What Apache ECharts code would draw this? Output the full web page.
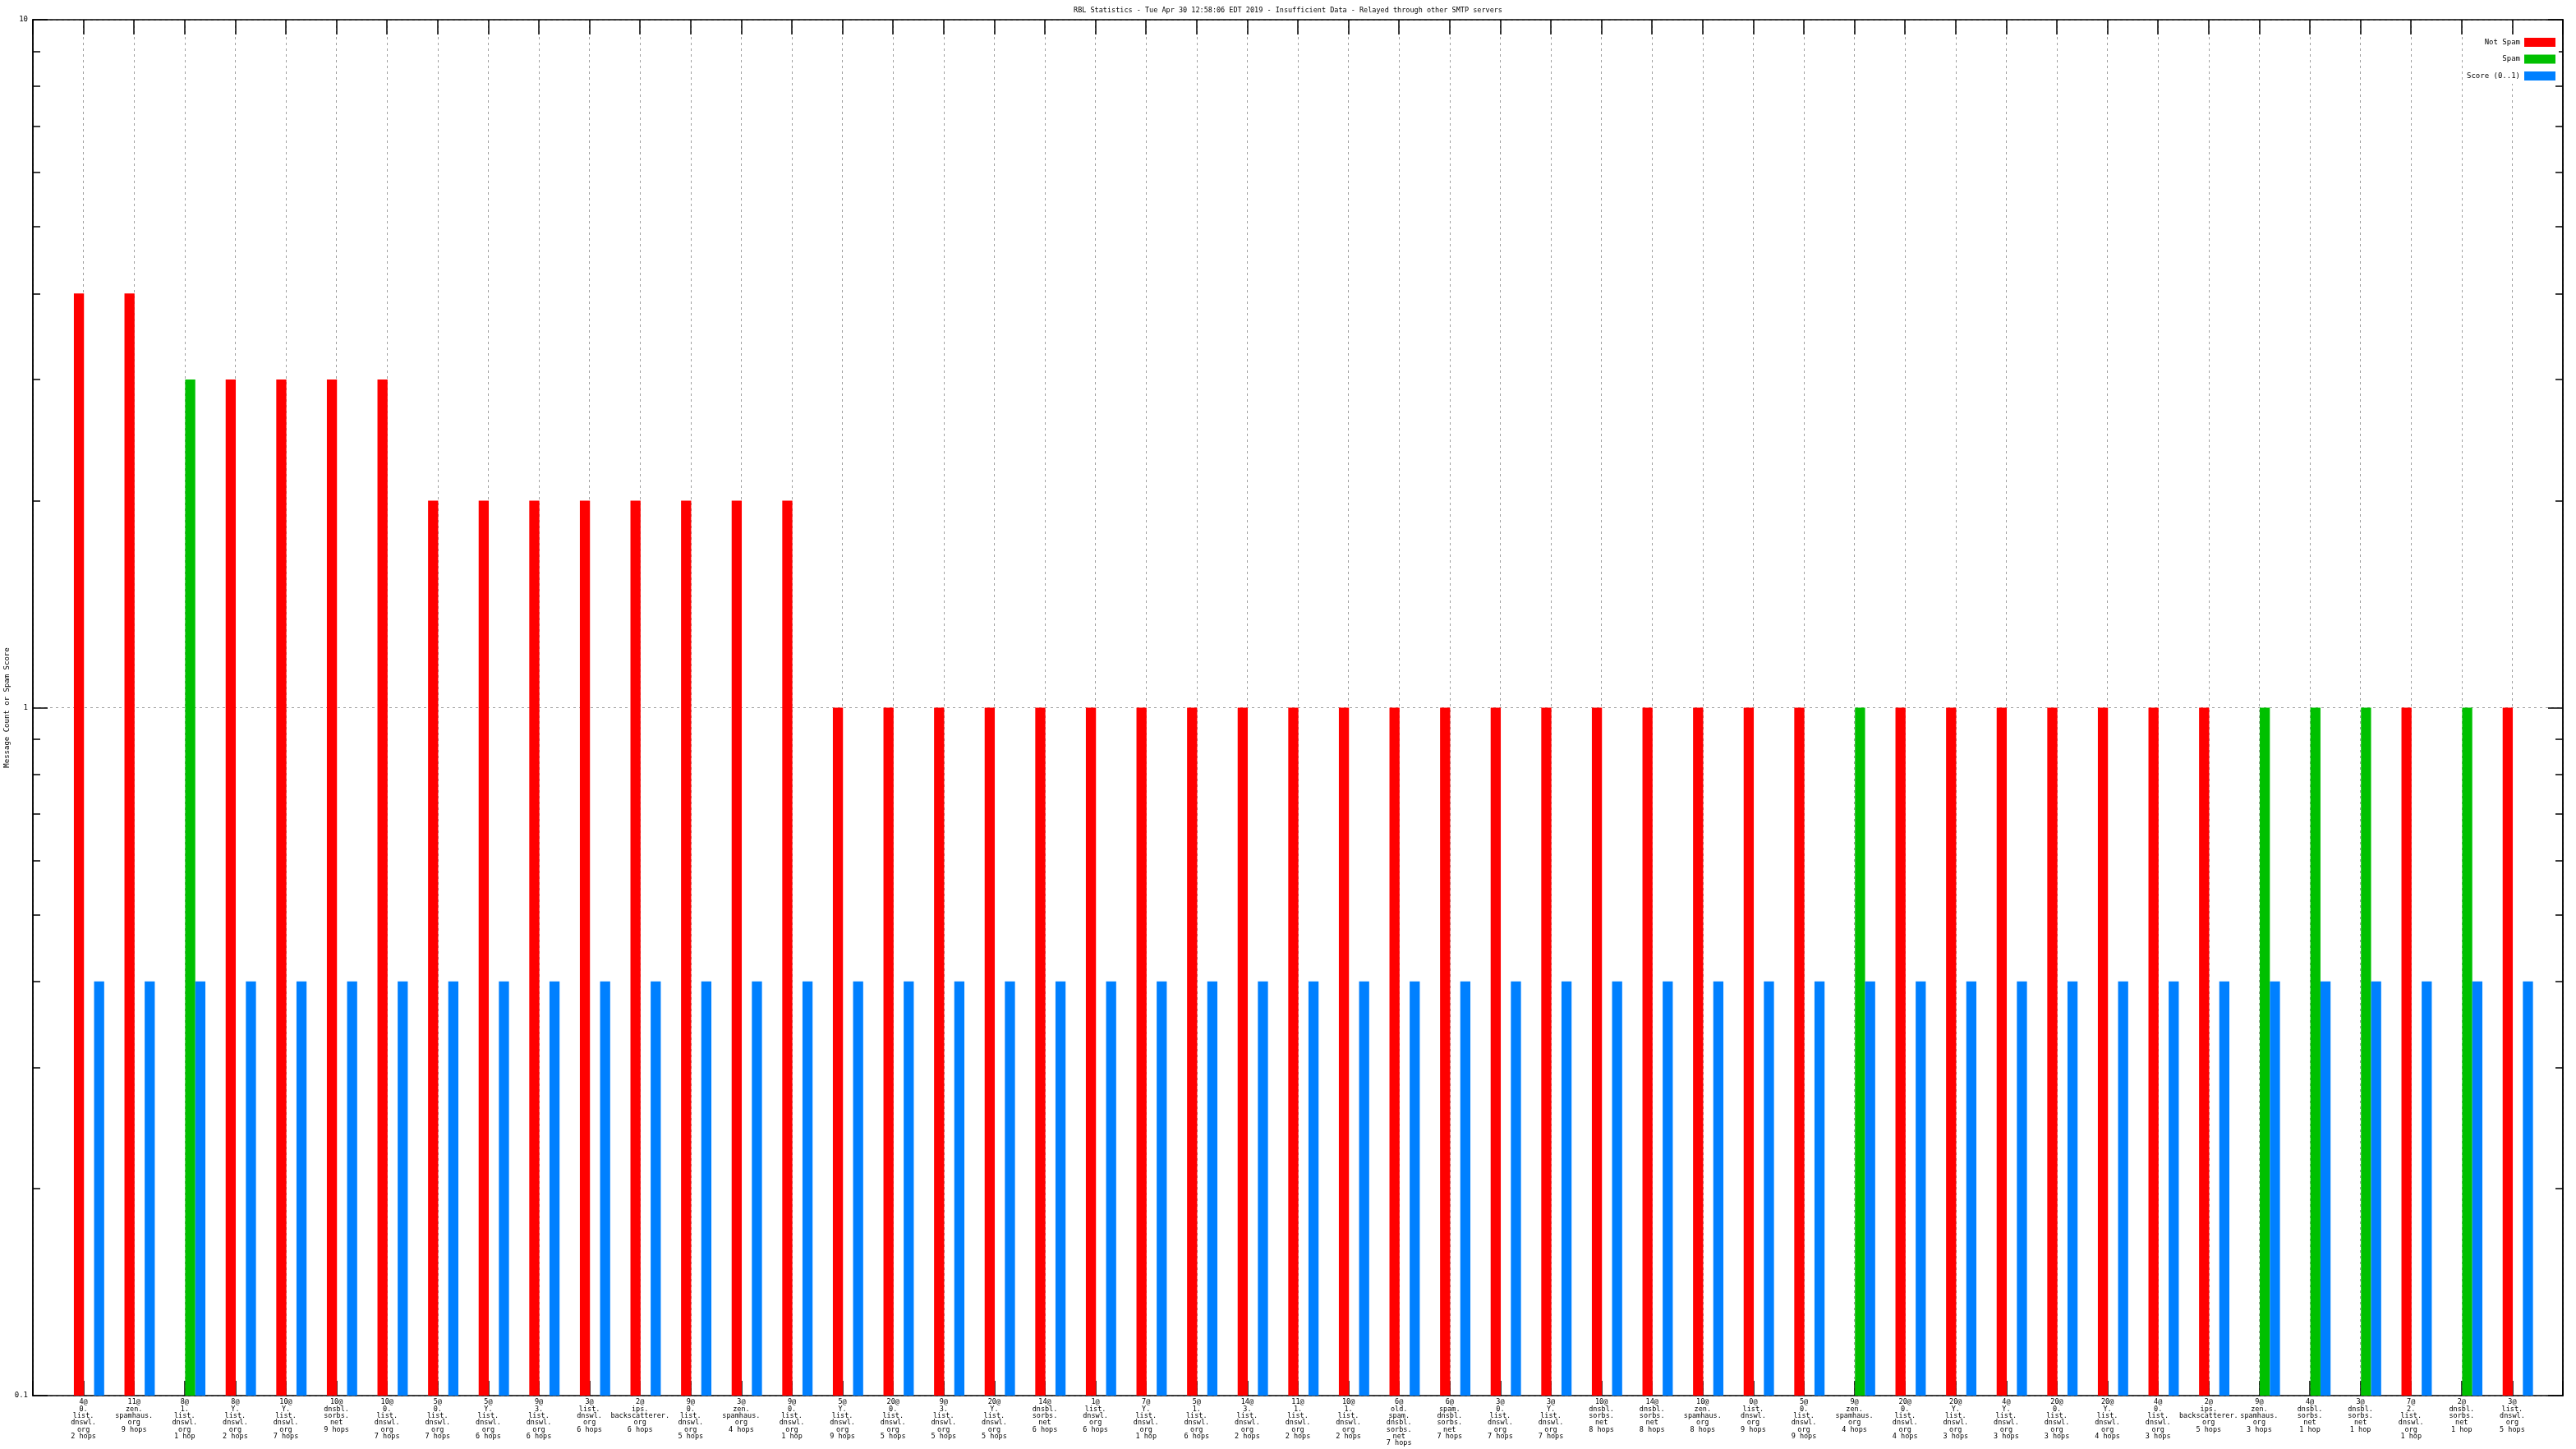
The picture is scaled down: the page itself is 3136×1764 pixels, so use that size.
<!DOCTYPE html>
<html><head><meta charset="utf-8">
<script src="https://cdn.jsdelivr.net/npm/echarts@6/dist/echarts.min.js"></script>
<style>html,body{margin:0;padding:0;background:#fff}#c{width:3136px;height:1764px}</style>
</head><body><div id="c"></div>
<script>
const titleText = 'RBL Statistics - Tue Apr 30 12:58:06 EDT 2019 - Insufficient Data - Relayed through other SMTP servers';
const yAxisName = 'Message Count or Spam Score';
const seriesNames = ['Not Spam', 'Spam', 'Score (0..1)'];

const categories = [
  '4@\n0.\nlist.\ndnswl.\norg\n2 hops',
  '11@\nzen.\nspamhaus.\norg\n9 hops',
  '8@\n1.\nlist.\ndnswl.\norg\n1 hop',
  '8@\nY.\nlist.\ndnswl.\norg\n2 hops',
  '10@\nY.\nlist.\ndnswl.\norg\n7 hops',
  '10@\ndnsbl.\nsorbs.\nnet\n9 hops',
  '10@\n0.\nlist.\ndnswl.\norg\n7 hops',
  '5@\n0.\nlist.\ndnswl.\norg\n7 hops',
  '5@\nY.\nlist.\ndnswl.\norg\n6 hops',
  '9@\n3.\nlist.\ndnswl.\norg\n6 hops',
  '3@\nlist.\ndnswl.\norg\n6 hops',
  '2@\nips.\nbackscatterer.\norg\n6 hops',
  '9@\n0.\nlist.\ndnswl.\norg\n5 hops',
  '3@\nzen.\nspamhaus.\norg\n4 hops',
  '9@\n0.\nlist.\ndnswl.\norg\n1 hop',
  '5@\nY.\nlist.\ndnswl.\norg\n9 hops',
  '20@\n0.\nlist.\ndnswl.\norg\n5 hops',
  '9@\n3.\nlist.\ndnswl.\norg\n5 hops',
  '20@\nY.\nlist.\ndnswl.\norg\n5 hops',
  '14@\ndnsbl.\nsorbs.\nnet\n6 hops',
  '1@\nlist.\ndnswl.\norg\n6 hops',
  '7@\nY.\nlist.\ndnswl.\norg\n1 hop',
  '5@\n1.\nlist.\ndnswl.\norg\n6 hops',
  '14@\n3.\nlist.\ndnswl.\norg\n2 hops',
  '11@\n1.\nlist.\ndnswl.\norg\n2 hops',
  '10@\n1.\nlist.\ndnswl.\norg\n2 hops',
  '6@\nold.\nspam.\ndnsbl.\nsorbs.\nnet\n7 hops',
  '6@\nspam.\ndnsbl.\nsorbs.\nnet\n7 hops',
  '3@\n0.\nlist.\ndnswl.\norg\n7 hops',
  '3@\nY.\nlist.\ndnswl.\norg\n7 hops',
  '10@\ndnsbl.\nsorbs.\nnet\n8 hops',
  '14@\ndnsbl.\nsorbs.\nnet\n8 hops',
  '10@\nzen.\nspamhaus.\norg\n8 hops',
  '0@\nlist.\ndnswl.\norg\n9 hops',
  '5@\n0.\nlist.\ndnswl.\norg\n9 hops',
  '9@\nzen.\nspamhaus.\norg\n4 hops',
  '20@\n0.\nlist.\ndnswl.\norg\n4 hops',
  '20@\nY.\nlist.\ndnswl.\norg\n3 hops',
  '4@\nY.\nlist.\ndnswl.\norg\n3 hops',
  '20@\n0.\nlist.\ndnswl.\norg\n3 hops',
  '20@\nY.\nlist.\ndnswl.\norg\n4 hops',
  '4@\n0.\nlist.\ndnswl.\norg\n3 hops',
  '2@\nips.\nbackscatterer.\norg\n5 hops',
  '9@\nzen.\nspamhaus.\norg\n3 hops',
  '4@\ndnsbl.\nsorbs.\nnet\n1 hop',
  '3@\ndnsbl.\nsorbs.\nnet\n1 hop',
  '7@\n2.\nlist.\ndnswl.\norg\n1 hop',
  '2@\ndnsbl.\nsorbs.\nnet\n1 hop',
  '3@\nlist.\ndnswl.\norg\n5 hops'
];

const notSpam = [4,4,null,3,3,3,3,2,2,2,2,2,2,2,2,
  1,1,1,1,1,1,1,1,1,1,1,1,1,1,1,1,1,1,1,1,
  null,1,1,1,1,1,1,1,null,null,null,1,null,1];
const spam = [null,null,3,null,null,null,null,null,null,null,null,null,null,null,null,
  null,null,null,null,null,null,null,null,null,null,null,null,null,null,null,null,null,null,null,null,
  1,null,null,null,null,null,null,null,1,1,1,null,1,null];
const score = [0.4,0.4,0.4,0.4,0.4,0.4,0.4,0.4,0.4,0.4,0.4,0.4,0.4,0.4,0.4,0.4,0.4,0.4,0.4,0.4,
  0.4,0.4,0.4,0.4,0.4,0.4,0.4,0.4,0.4,0.4,0.4,0.4,0.4,0.4,0.4,0.4,0.4,0.4,0.4,0.4,
  0.4,0.4,0.4,0.4,0.4,0.4,0.4,0.4,0.4];

const yMajorTicks = [0.1, 1, 10];
const yMinorTicks = [0.2,0.3,0.4,0.5,0.6,0.7,0.8,0.9,2,3,4,5,6,7,8,9];

const FONT = 'DejaVu Sans Mono';
const BAR_SHIFT = 0.11;
const colors = ['#ff0000', '#00c000', '#0080ff'];
const toPoints = arr => arr.map((v, i) => [i + BAR_SHIFT, v]);

const chart = echarts.init(document.getElementById('c'), null, {renderer: 'canvas'});

const axisLine = {show: true, onZero: false, lineStyle: {color: '#000', width: 1.5}};
function yAx(pos, ticks, len, labels) {
  return {
    type: 'log', logBase: 10, min: 0.1, max: 10, startValue: 0.1, position: pos, offset: 0,
    axisLine: axisLine,
    axisTick: {show: true, inside: true, length: len, customValues: ticks, lineStyle: {color: '#000', width: 1.5}},
    axisLabel: labels ? {show: true, customValues: yMajorTicks, margin: 6, fontFamily: FONT, fontSize: 9, color: '#000',
      formatter: v => String(v)} : {show: false},
    splitLine: labels ? {show: true, lineStyle: {color: '#a0a0a0', type: [3, 4], width: 1}} : {show: false},
    name: labels ? yAxisName : '', nameLocation: 'middle', nameGap: 27, nameMoveOverlap: false,
    nameTextStyle: {fontFamily: FONT, fontSize: 9, color: '#000'}
  };
}

chart.setOption({
  animation: false,
  backgroundColor: '#fff',
  title: {text: titleText, left: 'center', top: 3,
    textStyle: {fontFamily: FONT, fontSize: 8.5, fontWeight: 'normal', color: '#000'}},
  legend: {
    data: seriesNames, orient: 'vertical', right: 21, top: 42, align: 'right',
    itemWidth: 38, itemHeight: 11, itemGap: 9.5, padding: 4, backgroundColor: '#fff',
    icon: 'rect', textStyle: {fontFamily: FONT, fontSize: 9, color: '#000'}
  },
  grid: {left: 40, right: 16, top: 24, bottom: 65, containLabel: false, outerBoundsMode: 'none'},
  xAxis: [
    {type: 'value', position: 'bottom', offset: 0, min: -1, max: categories.length, interval: 1,
      axisLine: axisLine,
      axisTick: {show: true, inside: true, length: 18, lineStyle: {color: '#000', width: 1.5}},
      axisLabel: {show: true, margin: 4, fontFamily: FONT, fontSize: 8.5, lineHeight: 8.3, color: '#000',
        formatter: v => { const i = Math.round(v); return (i >= 0 && i < categories.length) ? categories[i] : ''; }},
      splitLine: {show: true, lineStyle: {color: '#a0a0a0', type: [3, 4], width: 1}}},
    {type: 'value', position: 'top', offset: 0, min: -1, max: categories.length, interval: 1,
      axisLine: axisLine,
      axisTick: {show: true, inside: true, length: 18, lineStyle: {color: '#000', width: 1.5}},
      axisLabel: {show: false}, splitLine: {show: false}}
  ],
  yAxis: [
    yAx('left', yMajorTicks, 18, true),
    yAx('left', yMinorTicks, 9, false),
    yAx('right', yMajorTicks, 18, false),
    yAx('right', yMinorTicks, 9, false)
  ],
  series: [
    {name: seriesNames[0], type: 'bar', xAxisIndex: 0, yAxisIndex: 0, data: toPoints(notSpam),
      barWidth: 12.3, barGap: '0%', itemStyle: {color: colors[0]}},
    {name: seriesNames[1], type: 'bar', xAxisIndex: 0, yAxisIndex: 0, data: toPoints(spam),
      barWidth: 12.3, barGap: '0%', itemStyle: {color: colors[1]}},
    {name: seriesNames[2], type: 'bar', xAxisIndex: 0, yAxisIndex: 0, data: toPoints(score),
      barWidth: 12.3, barGap: '0%', itemStyle: {color: colors[2]}}
  ]
});
</script></body></html>
